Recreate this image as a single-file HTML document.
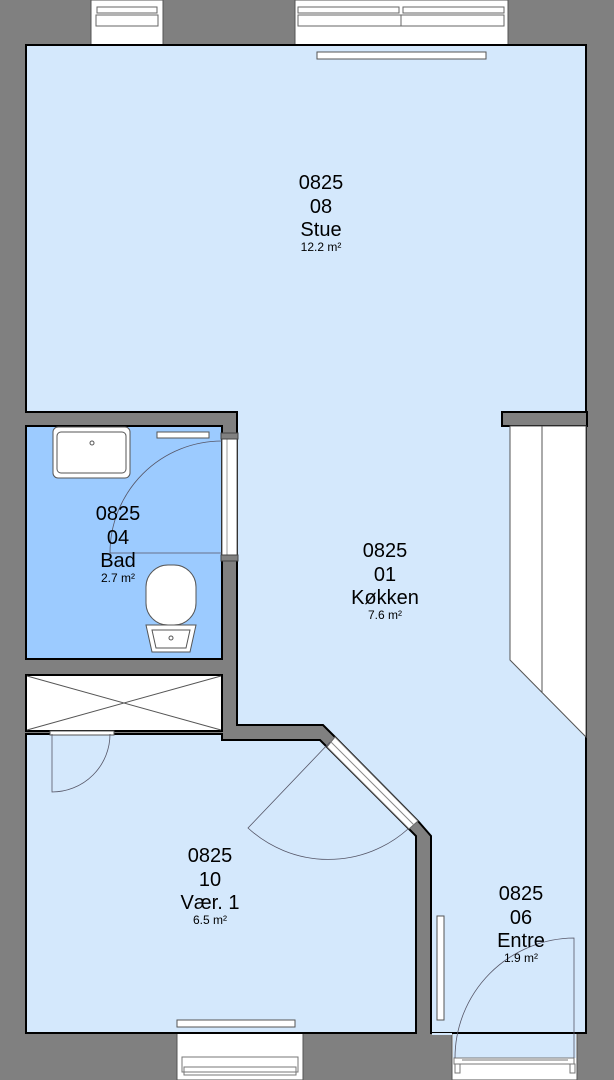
<!DOCTYPE html>
<html><head><meta charset="utf-8"><style>
html,body{margin:0;padding:0;background:#808080}
svg{display:block}
text{font-family:"Liberation Sans",Arial,sans-serif;fill:#000;text-anchor:middle}
.b{font-size:20px}.s{font-size:12px}
</style></head><body>
<svg width="614" height="1080" viewBox="0 0 614 1080" xmlns="http://www.w3.org/2000/svg">
<rect width="614" height="1080" fill="#808080"/>
<!-- top windows -->
<g fill="#fff" stroke="#555" stroke-width="1">
<rect x="91" y="0" width="72" height="45"/>
<rect x="295" y="0" width="213" height="45"/>
</g>
<g fill="none" stroke="#666" stroke-width="1">
<rect x="97" y="7" width="60" height="6"/><line x1="97" y1="15" x2="157" y2="15"/><rect x="96" y="15" width="62" height="11"/>
<rect x="298" y="7" width="101" height="6"/><rect x="403" y="7" width="101" height="6"/>
<line x1="298" y1="15" x2="504" y2="15"/><rect x="298" y="15" width="206" height="11"/><line x1="401" y1="15" x2="401" y2="26"/>
</g>
<!-- bottom windows -->
<rect x="177" y="1033" width="126" height="47" fill="#fff" stroke="#555"/>
<g fill="none" stroke="#777"><rect x="182" y="1057" width="116" height="15"/><rect x="184" y="1067" width="112" height="8"/></g>
<rect x="452" y="1033" width="125" height="47" fill="#fff" stroke="#555"/>
<rect x="453" y="1033" width="123" height="25" fill="#d4e8fc"/>
<g fill="none" stroke="#777"><rect x="454" y="1058" width="120" height="6"/><line x1="462" y1="1060" x2="568" y2="1060"/><rect x="455" y="1064" width="5" height="9"/><rect x="570" y="1064" width="5" height="9"/></g>
<!-- main area: Stue / Køkken / Entre -->
<polygon points="26,45 586,45 586,1033 431,1033 431,836 418,821 335,737 323,725 237,725 237,412 26,412" fill="#d4e8fc" stroke="#000" stroke-width="2"/>
<rect x="432" y="1033" width="20" height="2" fill="#d4e8fc"/>
<!-- stair stub -->
<rect x="502" y="412" width="85" height="14" fill="#808080" stroke="#000" stroke-width="2"/>
<polygon points="510,426 586,426 586,737 510,660" fill="#fff" stroke="#555" stroke-width="1"/>
<line x1="542" y1="426" x2="542" y2="692" stroke="#555"/>
<!-- Vær room -->
<polygon points="26,734 222,734 222,740 320,740 327,747 409,829 416,836 416,1033 26,1033" fill="#d4e8fc" stroke="#000" stroke-width="2"/>
<!-- door strip diagonal -->
<polygon points="335,737 418,821 409,829 327,747" fill="#fff" stroke="#666" stroke-width="1"/>
<line x1="331" y1="742" x2="414" y2="825" stroke="#888"/>
<!-- bath -->
<rect x="26" y="426" width="196" height="233" fill="#9ccbff" stroke="#000" stroke-width="2"/>
<rect x="222" y="438" width="15" height="117" fill="#fff" stroke="#666"/>
<line x1="227" y1="438" x2="227" y2="555" stroke="#999"/>
<rect x="221" y="433" width="17" height="6" fill="#808080" stroke="#444"/>
<rect x="221" y="555" width="17" height="6" fill="#808080" stroke="#444"/>
<!-- closet -->
<rect x="26" y="675" width="196" height="56" fill="#fff" stroke="#000" stroke-width="2"/>
<line x1="27" y1="676" x2="221" y2="730" stroke="#555"/><line x1="27" y1="730" x2="221" y2="676" stroke="#555"/>
<rect x="50" y="731" width="64" height="4" fill="#fff" stroke="#555"/>
<!-- thin white strips -->
<g fill="#fff" stroke="#555">
<rect x="317" y="52" width="169" height="7"/>
<rect x="177" y="1020" width="118" height="7"/>
<rect x="437" y="916" width="7" height="104"/>
<rect x="157" y="432" width="52" height="6"/>
</g>
<!-- sink -->
<rect x="53" y="427" width="77" height="51" rx="5" fill="#fff" stroke="#555"/>
<rect x="57" y="432" width="69" height="41" rx="4" fill="none" stroke="#555"/>
<circle cx="92" cy="443" r="2" fill="none" stroke="#555"/>
<!-- toilet -->
<path d="M146,625 L152,652 L190,652 L196,625 Z" fill="#fff" stroke="#555"/>
<path d="M152,630 L156,648 L186,648 L190,630 Z" fill="none" stroke="#555"/>
<circle cx="171" cy="638" r="2" fill="none" stroke="#555"/>
<rect x="146" y="565" width="50" height="60" rx="22" fill="#fff" stroke="#555"/>
<!-- door swings -->
<g fill="none" stroke="#556" stroke-width="0.8">
<path d="M110,553 L222,553 M110,553 A112,112 0 0 1 222,441"/>
<path d="M330,742 L248,828 A119,119 0 0 0 408,829"/>
<path d="M574,1058 L574,938 A120,120 0 0 0 455,1058"/>
<path d="M52,734 L52,792 A58,58 0 0 0 110,734"/>
</g>
<!-- labels -->
<text class="b" x="321" y="189">0825</text><text class="b" x="321" y="213">08</text><text class="b" x="321" y="236">Stue</text><text class="s" x="321" y="251">12.2 m²</text>
<text class="b" x="118" y="520">0825</text><text class="b" x="118" y="544">04</text><text class="b" x="118" y="567">Bad</text><text class="s" x="118" y="582">2.7 m²</text>
<text class="b" x="385" y="557">0825</text><text class="b" x="385" y="581">01</text><text class="b" x="385" y="604">Køkken</text><text class="s" x="385" y="619">7.6 m²</text>
<text class="b" x="210" y="862">0825</text><text class="b" x="210" y="886">10</text><text class="b" x="210" y="909">Vær. 1</text><text class="s" x="210" y="924">6.5 m²</text>
<text class="b" x="521" y="900">0825</text><text class="b" x="521" y="924">06</text><text class="b" x="521" y="947">Entre</text><text class="s" x="521" y="962">1.9 m²</text>
</svg>
</body></html>
